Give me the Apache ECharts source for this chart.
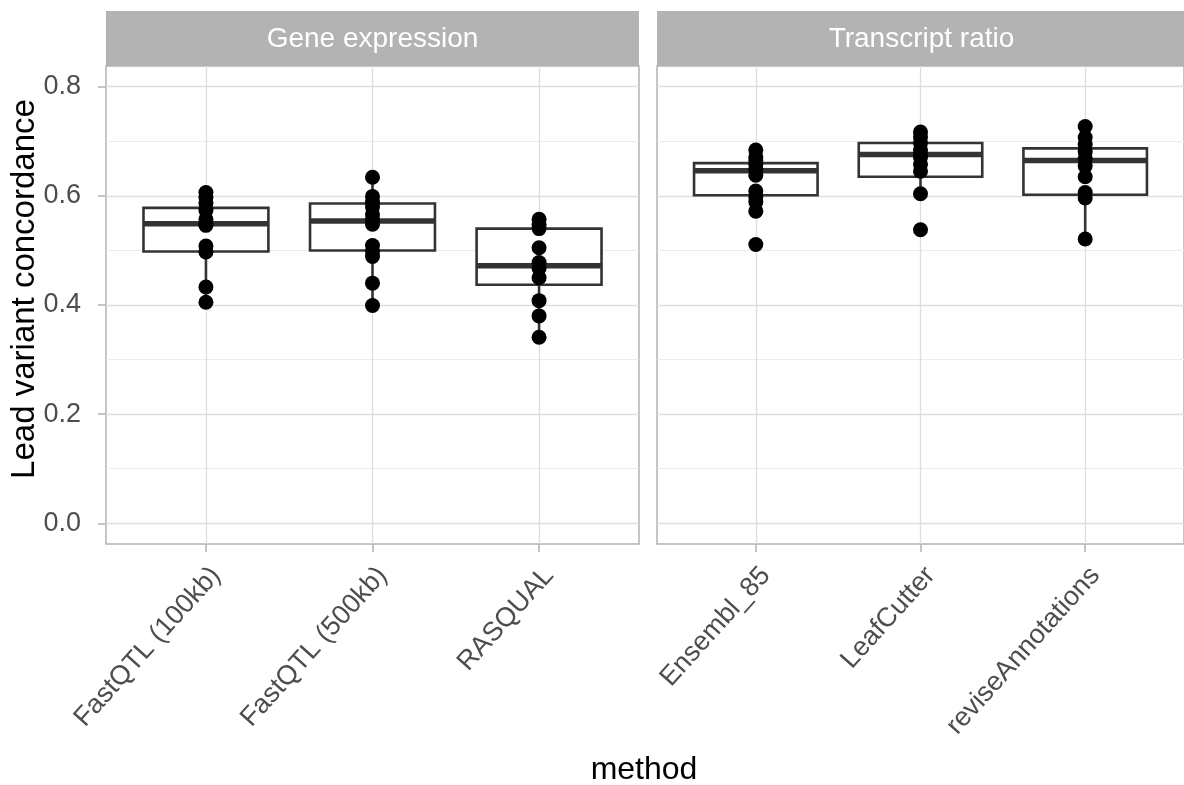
<!DOCTYPE html>
<html>
<head>
<meta charset="utf-8">
<script src="https://cdn.jsdelivr.net/npm/echarts@6/dist/echarts.min.js"></script>
<style>
  html, body { margin: 0; padding: 0; background: #fff; }
  #chart { width: 1184px; height: 785px; }
</style>
</head>
<body>
<div id="chart"></div>
<script>
// facets and categories
var panels = ['Gene expression', 'Transcript ratio'];
var geneMethods = ['FastQTL (100kb)', 'FastQTL (500kb)', 'RASQUAL'];
var txMethods = ['Ensembl_85', 'LeafCutter', 'reviseAnnotations'];

// box stats: [lower whisker, Q1, median, Q3, upper whisker]
var geneBoxes = [
    [0.405, 0.498, 0.549, 0.578, 0.606],
    [0.399, 0.500, 0.554, 0.586, 0.634],
    [0.341, 0.437, 0.472, 0.540, 0.557]
];
var txBoxes = [
    [0.572, 0.601, 0.646, 0.660, 0.684],
    [0.604, 0.635, 0.676, 0.697, 0.717],
    [0.521, 0.602, 0.665, 0.687, 0.727]
];

// individual points per method
var genePoints = [
    [0.606, 0.597, 0.586, 0.573, 0.557, 0.549, 0.546, 0.508, 0.497, 0.433, 0.405],
    [0.634, 0.599, 0.589, 0.580, 0.566, 0.557, 0.548, 0.509, 0.498, 0.489, 0.440, 0.399],
    [0.557, 0.548, 0.540, 0.505, 0.478, 0.467, 0.450, 0.408, 0.380, 0.341]
];
var txPoints = [
    [0.684, 0.671, 0.665, 0.658, 0.648, 0.638, 0.609, 0.598, 0.589, 0.572, 0.511],
    [0.717, 0.708, 0.697, 0.684, 0.676, 0.671, 0.658, 0.645, 0.604, 0.538],
    [0.727, 0.707, 0.694, 0.681, 0.668, 0.655, 0.635, 0.606, 0.596, 0.521]
];

var yTicks = [0, 0.2, 0.4, 0.6, 0.8];
var yMinor = [0.1, 0.3, 0.5, 0.7];

var FONT = 'Liberation Sans, Arial, Helvetica, sans-serif';

function boxRows(boxes) {
    return boxes.map(function (b, i) { return [i + 1].concat(b); });
}
function pointRows(points) {
    var rows = [];
    points.forEach(function (vals, i) {
        vals.forEach(function (v) { rows.push([i + 1, v]); });
    });
    return rows;
}

function renderBox(params, api) {
    var x = api.value(0);
    var lo = api.coord([x, api.value(1)]);
    var q1 = api.coord([x, api.value(2)]);
    var med = api.coord([x, api.value(3)]);
    var q3 = api.coord([x, api.value(4)]);
    var hi = api.coord([x, api.value(5)]);
    var half = api.size([0.75, 0])[0] / 2;
    var stroke = { stroke: '#333333', lineWidth: 2.6, fill: null };
    return {
        type: 'group',
        children: [
            { type: 'line', shape: { x1: lo[0], y1: lo[1], x2: q1[0], y2: q1[1] }, style: stroke },
            { type: 'line', shape: { x1: q3[0], y1: q3[1], x2: hi[0], y2: hi[1] }, style: stroke },
            { type: 'rect', shape: { x: q3[0] - half, y: q3[1], width: half * 2, height: q1[1] - q3[1] },
              style: { stroke: '#333333', lineWidth: 2.6, fill: '#fff' } },
            { type: 'line', shape: { x1: med[0] - half, y1: med[1], x2: med[0] + half, y2: med[1] },
              style: { stroke: '#333333', lineWidth: 5.5 } }
        ]
    };
}

function xAxisFor(idx, names) {
    return {
        gridIndex: idx, type: 'value', min: 0.4, max: 3.6,
        axisLine: { show: false, onZero: false },
        axisTick: { show: true, customValues: [1, 2, 3], length: 8, lineStyle: { color: '#b3b3b3', width: 1.5 } },
        axisLabel: {
            customValues: [1, 2, 3],
            formatter: function (v) { return names[Math.round(v) - 1]; },
            rotate: 48, margin: 18, verticalAlign: 'top',
            fontSize: 27, color: '#4d4d4d', fontFamily: FONT
        },
        splitLine: { show: true, lineStyle: { color: '#dedede', width: 1.3 } }
    };
}

function yAxesFor(idx, showLabels) {
    return [{
        gridIndex: idx, type: 'value', min: -0.038, max: 0.838,
        axisLine: { show: false, onZero: false },
        axisTick: { show: showLabels, customValues: yTicks, length: 8, lineStyle: { color: '#b3b3b3', width: 1.5 } },
        axisLabel: {
            show: showLabels, customValues: yTicks,
            formatter: function (v) { return v.toFixed(1); },
            fontSize: 27, color: '#4d4d4d', fontFamily: FONT, margin: 25
        },
        splitLine: { show: true, lineStyle: { color: '#dedede', width: 1.3 } }
    }, {
        gridIndex: idx, type: 'value', min: -0.038, max: 0.838,
        axisLine: { show: false, onZero: false },
        axisTick: { show: false, customValues: yMinor },
        axisLabel: { show: false, customValues: yMinor },
        splitLine: { show: true, lineStyle: { color: '#ececec', width: 1 } }
    }];
}

var option = {
    backgroundColor: '#fff',
    animation: false,
    grid: [
        { left: 106, top: 66, right: 545, bottom: 241, show: true, borderColor: '#b3b3b3', borderWidth: 1.5 },
        { left: 657, top: 66, right: -2, bottom: 241, show: true, borderColor: '#b3b3b3', borderWidth: 1.5 }
    ],
    xAxis: [xAxisFor(0, geneMethods), xAxisFor(1, txMethods)],
    yAxis: yAxesFor(0, true).concat(yAxesFor(1, false)),
    graphic: [
        { type: 'rect', shape: { x: 106, y: 11, width: 533, height: 55 }, style: { fill: '#b3b3b3' } },
        { type: 'rect', shape: { x: 657, y: 11, width: 529, height: 55 }, style: { fill: '#b3b3b3' } },
        { type: 'text', x: 372.5, y: 39, style: { text: panels[0], fill: '#fff', fontSize: 28, fontFamily: FONT, textAlign: 'center', textVerticalAlign: 'middle' } },
        { type: 'text', x: 921.5, y: 39, style: { text: panels[1], fill: '#fff', fontSize: 28, fontFamily: FONT, textAlign: 'center', textVerticalAlign: 'middle' } },
        { type: 'text', x: 25, y: 289, rotation: Math.PI / 2, style: { text: 'Lead variant concordance', fill: '#000', fontSize: 33, fontFamily: FONT, textAlign: 'center', textVerticalAlign: 'middle' } },
        { type: 'text', x: 644, y: 770, style: { text: 'method', fill: '#000', fontSize: 32, fontFamily: FONT, textAlign: 'center', textVerticalAlign: 'middle' } }
    ],
    series: [
        { type: 'custom', xAxisIndex: 0, yAxisIndex: 0, renderItem: renderBox, data: boxRows(geneBoxes), z: 2 },
        { type: 'custom', xAxisIndex: 1, yAxisIndex: 2, renderItem: renderBox, data: boxRows(txBoxes), z: 2 },
        { type: 'scatter', xAxisIndex: 0, yAxisIndex: 0, symbolSize: 15, itemStyle: { color: '#000', opacity: 1 }, data: pointRows(genePoints), z: 3 },
        { type: 'scatter', xAxisIndex: 1, yAxisIndex: 2, symbolSize: 15, itemStyle: { color: '#000', opacity: 1 }, data: pointRows(txPoints), z: 3 }
    ]
};

var chart = echarts.init(document.getElementById('chart'));
chart.setOption(option);
</script>
</body>
</html>
